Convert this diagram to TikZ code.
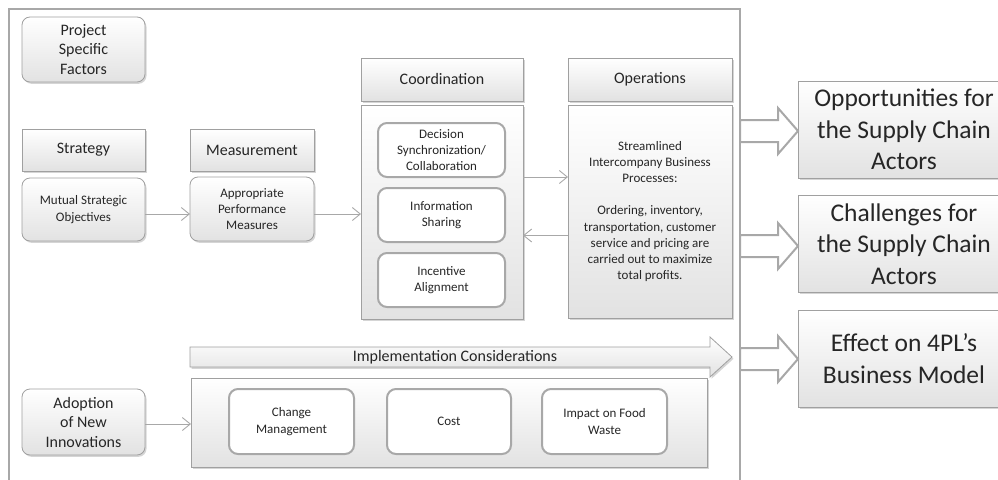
\documentclass[tikz,border=0pt]{standalone}
\usepackage{fontspec}
\setmainfont{Carlito}
\usetikzlibrary{arrows.meta,shadows,calc}
\definecolor{lc}{HTML}{A8A8A8}
\definecolor{bc}{HTML}{A0A0A0}
\definecolor{gb}{HTML}{E2E2E2}
\definecolor{tc}{HTML}{262626}
\newcommand{\fH}{\fontsize{16}{19.5}\selectfont}
\newcommand{\fS}{\fontsize{13}{16.2}\selectfont}
\newcommand{\fB}{\fontsize{25.5}{31.7}\selectfont}
\tikzset{
  shd/.style={drop shadow={shadow xshift=1.5pt, shadow yshift=-1.8pt, opacity=0.3, fill=black!55}},
  gbox/.style={draw=bc, line width=0.8pt, top color=white, bottom color=gb, shd,
    inner sep=0pt, outer sep=0pt, align=center, text=tc},
  hbox/.style={gbox, rectangle, font=\fH},
  rbox/.style={gbox, rounded corners=8pt},
  wbox/.style={draw=lc, line width=2pt, fill=white, rounded corners=9pt,
    inner sep=0pt, outer sep=0pt, align=center, text=tc, font=\fS},
  conn/.style={draw=lc, line width=0.9pt, -{Straight Barb[length=8pt,width=13pt]}},
  barrow/.style={draw=lc, line width=2pt, fill=white, line join=miter},
  impl/.style={draw=bc, line width=0.8pt, top color=white, bottom color=gb, shd, line join=miter},
  sz/.style 2 args={minimum width=#1pt, minimum height=#2pt},
}
\begin{document}
\begin{tikzpicture}[x=1pt,y=-1pt]
\path[use as bounding box] (0,0) rectangle (998,479);
\clip (0,0) rectangle (998,479);
% outer frame
\coordinate (fbl) at (9,490);
\coordinate (ftl) at (9,9);
\coordinate (ftr) at (740,9);
\coordinate (fbr) at (740,490);
\draw[draw=lc, line width=2.5pt] (fbl) -- (ftl) -- (ftr) -- (fbr);

% left column
\node[rbox, font=\fH, sz={123}{65}] (psf) at (83.5,49.5) {Project\\Specific\\Factors};
\node[hbox, sz={123}{42}] (strat) at (83.5,150) {Strategy};
\node[rbox, font=\fS, sz={123}{63}] (mso) at (83.5,209.5) {Mutual Strategic\\Objectives};
\node[hbox, sz={124}{42}] (meas) at (252,150) {Measurement};
\node[rbox, font=\fS, sz={124}{64}] (apm) at (252,209) {Appropriate\\Performance\\Measures};

% coordination
\node[hbox, sz={162}{43}] (coh) at (442,79.5) {Coordination};
\node[gbox, sz={162}{214}] (cob) at (442,212) {};
\node[wbox, sz={127}{54}] (dsc) at (441.5,150) {Decision\\Synchronization/\\Collaboration};
\node[wbox, sz={127}{54}] (ish) at (441.5,215) {Information\\Sharing};
\node[wbox, sz={127}{54}] (ial) at (441.5,280) {Incentive\\Alignment};

% operations
\node[hbox, sz={164}{43}] (oph) at (650,79.5) {Operations};
\node[gbox, font=\fS, sz={164}{213}] (opb) at (650,211.5) {Streamlined\\Intercompany Business\\Processes:\\[16pt]Ordering, inventory,\\transportation, customer\\service and pricing are\\carried out to maximize\\total profits.};

% connectors
\draw[conn] ([yshift=-4.5pt]mso.east) -- ([yshift=-4.5pt]mso.east -| apm.west);
\draw[conn] ([yshift=-5pt]apm.east) -- ([yshift=-5pt]apm.east -| cob.west);
\draw[conn] ([yshift=35pt]cob.east) -- ([yshift=35pt]cob.east -| opb.west);
\draw[conn] ([yshift=-24pt]opb.west) -- ([yshift=-24pt]opb.west -| cob.east);

% right outcome boxes
\node[gbox, font=\fB, sz={212}{97}] (opp) at (904,129.5) {Opportunities for\\the Supply Chain\\Actors};
\node[gbox, font=\fB, sz={212}{97}] (chal) at (904,244) {Challenges for\\the Supply Chain\\Actors};
\node[gbox, font=\fB, sz={212}{97}] (eff) at (904,358.5) {Effect on 4PL’s\\Business Model};

% block arrows from frame to outcome boxes
\draw[barrow] ([yshift=-1.5pt]opp.west) -- ++(-20,-23) -- ++(0,12) -- ++(-38,0) -- ++(0,22) -- ++(38,0) -- ++(0,12) -- cycle;
\draw[barrow] ([yshift=-2pt]chal.west) -- ++(-20,-23) -- ++(0,12) -- ++(-38,0) -- ++(0,22) -- ++(38,0) -- ++(0,12) -- cycle;
\draw[barrow] ([yshift=-0.5pt]eff.west) -- ++(-20,-23) -- ++(0,12) -- ++(-38,0) -- ++(0,22) -- ++(38,0) -- ++(0,12) -- cycle;

% implementation considerations arrow
\path[impl] (190,347) -- (710,347) -- (710,337) -- (732,357) -- (710,377) -- (710,367) -- (190,367) -- cycle;
\node[font=\fH, text=tc, inner sep=0pt] (implt) at (455,357.5) {Implementation Considerations};

% bottom row
\node[gbox, sz={516}{89}] (ib) at (449,422.5) {};
\node[wbox, sz={125}{65}] (cm) at (291.5,421.5) {Change\\Management};
\node[wbox, sz={124}{65}] (cost) at (449,421.5) {Cost};
\node[wbox, sz={125}{65}] (ifw) at (604.5,421.5) {Impact on Food\\Waste};
\node[rbox, font=\fH, sz={123}{66}] (adopt) at (83.5,422) {Adoption\\of New\\Innovations};
\draw[conn] ([yshift=-2pt]adopt.east) -- ([yshift=-2pt]adopt.east -| ib.west);
\end{tikzpicture}
\end{document}
